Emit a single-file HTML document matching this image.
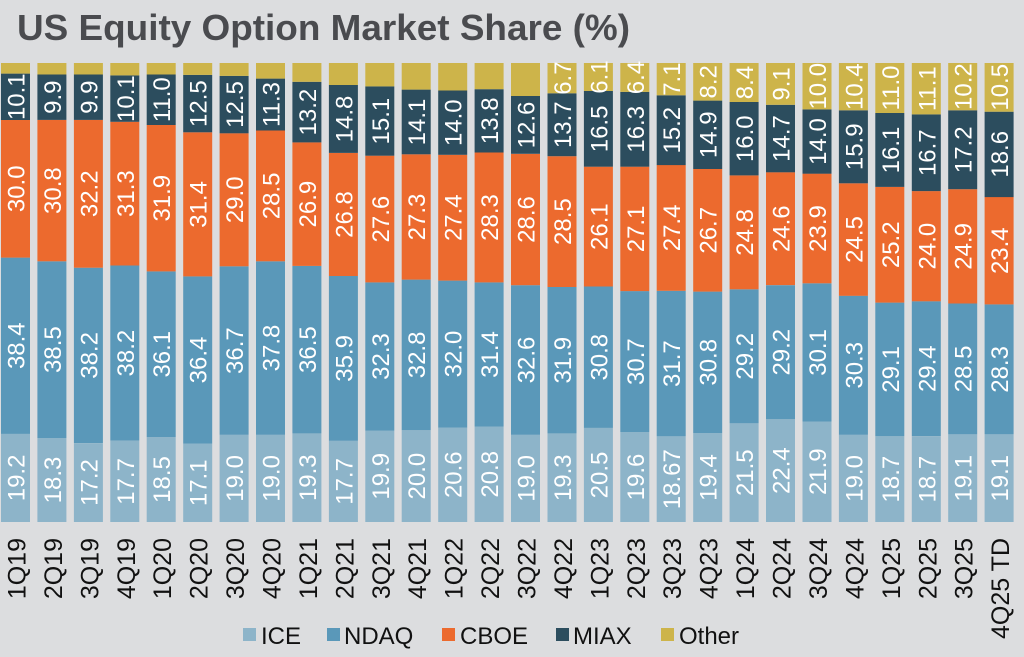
<!DOCTYPE html>
<html><head><meta charset="utf-8"><style>
html,body{margin:0;padding:0;background:#dcdddf;}
svg{display:block;font-family:"Liberation Sans",Arial,sans-serif;}
</style></head><body>
<svg id="c" width="1024" height="657" xmlns="http://www.w3.org/2000/svg">
<rect width="1024" height="657" fill="#dcdddf"/>
<text x="17" y="40" font-size="36" font-weight="bold" fill="#4a4b4f" textLength="613" lengthAdjust="spacingAndGlyphs">US Equity Option Market Share (%)</text>
<g id="bars"></g>
<g font-size="24" fill="#111">
<rect x="243" y="628" width="13" height="13" fill="#8db4c9"/><text x="261" y="644">ICE</text>
<rect x="327" y="628" width="13" height="13" fill="#5a98b9"/><text x="344" y="644">NDAQ</text>
<rect x="442" y="628" width="13" height="13" fill="#ec6a2e"/><text x="460" y="644">CBOE</text>
<rect x="556" y="628" width="13" height="13" fill="#2c4d5e"/><text x="573" y="644">MIAX</text>
<rect x="661" y="628" width="13" height="13" fill="#cdb44a"/><text x="679" y="644">Other</text>
</g>
</svg>
<script>
var L=["1Q19","2Q19","3Q19","4Q19","1Q20","2Q20","3Q20","4Q20","1Q21","2Q21","3Q21","4Q21","1Q22","2Q22","3Q22","4Q22","1Q23","2Q23","3Q23","4Q23","1Q24","2Q24","3Q24","4Q24","1Q25","2Q25","3Q25","4Q25 TD"];
var D=[["19.2","38.4","30.0","10.1"],["18.3","38.5","30.8","9.9"],["17.2","38.2","32.2","9.9"],["17.7","38.2","31.3","10.1"],["18.5","36.1","31.9","11.0"],["17.1","36.4","31.4","12.5"],["19.0","36.7","29.0","12.5"],["19.0","37.8","28.5","11.3"],["19.3","36.5","26.9","13.2"],["17.7","35.9","26.8","14.8"],["19.9","32.3","27.6","15.1"],["20.0","32.8","27.3","14.1"],["20.6","32.0","27.4","14.0"],["20.8","31.4","28.3","13.8"],["19.0","32.6","28.6","12.6"],["19.3","31.9","28.5","13.7","6.7"],["20.5","30.8","26.1","16.5","6.1"],["19.6","30.7","27.1","16.3","6.4"],["18.67","31.7","27.4","15.2","7.1"],["19.4","30.8","26.7","14.9","8.2"],["21.5","29.2","24.8","16.0","8.4"],["22.4","29.2","24.6","14.7","9.1"],["21.9","30.1","23.9","14.0","10.0"],["19.0","30.3","24.5","15.9","10.4"],["18.7","29.1","25.2","16.1","11.0"],["18.7","29.4","24.0","16.7","11.1"],["19.1","28.5","24.9","17.2","10.2"],["19.1","28.3","23.4","18.6","10.5"]];
var C=["#8db4c9","#5a98b9","#ec6a2e","#2c4d5e","#cdb44a"];
var base=522,top0=63,S=(base-top0)/100,s="";
for(var i=0;i<28;i++){
 var x=1+i*36.43,w=29,cx=x+w/2,y=base,d=D[i];
 for(var k=0;k<5;k++){
  var y0,y1;
  if(k<4){var v=parseFloat(d[k]);y1=y;y0=y-v*S;}else{y1=y;y0=top0;}
  s+='<rect x="'+x.toFixed(1)+'" y="'+y0.toFixed(1)+'" width="'+w+'" height="'+(y1-y0).toFixed(1)+'" fill="'+C[k]+'"/>';
  if(d[k]){var my=(y0+y1)/2;
   s+='<text transform="translate('+(cx+9).toFixed(1)+','+my.toFixed(1)+') rotate(-90)" text-anchor="middle" font-size="24" fill="#fff">'+d[k]+'</text>';}
  y=y0;
 }
 s+='<text transform="translate('+(cx+10).toFixed(1)+',538) rotate(-90)" text-anchor="end" font-size="25" fill="#111">'+L[i]+'</text>';
}
document.getElementById("bars").innerHTML=s;
</script>
</body></html>
